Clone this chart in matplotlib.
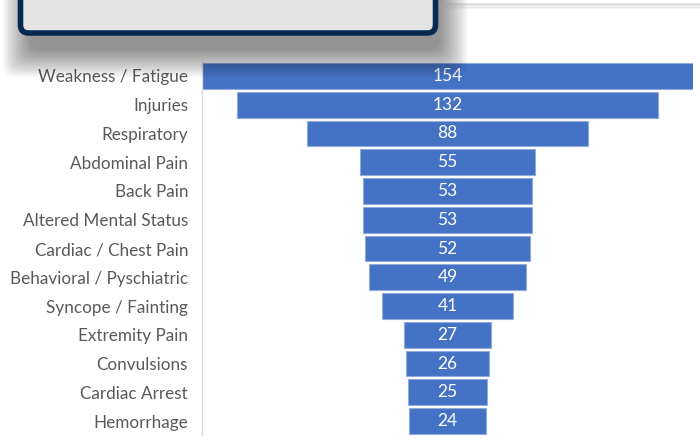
import matplotlib.pyplot as plt
import numpy as np
from matplotlib.patches import FancyBboxPatch
from matplotlib.lines import Line2D

categories = ['Weakness / Fatigue', 'Injuries', 'Respiratory', 'Abdominal Pain',
              'Back Pain', 'Altered Mental Status', 'Cardiac / Chest Pain',
              'Behavioral / Pyschiatric', 'Syncope / Fainting', 'Extremity Pain',
              'Convulsions', 'Cardiac Arrest', 'Hemorrhage']
counts = [154, 132, 88, 55, 53, 53, 52, 49, 41, 27, 26, 25, 24]

bar_color = '#4472C4'
label_color = '#595959'

fig = plt.figure(figsize=(7, 4.48), dpi=100)
ax = fig.add_axes([202 / 700, 1 - 435.4 / 448, 491 / 700, (435.4 - 61.6) / 448])

y = np.arange(len(categories))
vals = np.array(counts)
ax.barh(y, vals, left=-vals / 2, height=0.9, color=bar_color,
        edgecolor='#8FAADC', linewidth=0.8)
for yi, v in zip(y, vals):
    ax.text(0, yi, str(v), ha='center', va='center', color='white',
            fontsize=12.5, family='Lato')

ax.set_xlim(-max(counts) / 2, max(counts) / 2)
ax.set_ylim(len(categories) - 0.5, -0.5)
ax.set_yticks(y)
ax.set_yticklabels(categories, fontsize=12.3, color=label_color, family='Lato')
ax.tick_params(axis='y', length=0, pad=10)
ax.set_xticks([])
for s in ['top', 'right', 'bottom']:
    ax.spines[s].set_visible(False)
ax.spines['left'].set_color('#D9D9D9')
ax.spines['left'].set_linewidth(1)

# faint edge line along the top right
for i, a in enumerate([0.25, 0.2, 0.15, 0.1]):
    fig.add_artist(Line2D([4.4, 7.0], [4.44 - 0.015 * i, 4.44 - 0.015 * i],
                          transform=fig.dpi_scale_trans,
                          color='#A0A0A0', linewidth=1.5, alpha=a))

# soft shadow under the callout box
for i in range(16):
    pad = 0.018 * i
    fig.add_artist(FancyBboxPatch((0.3 - pad, 3.98 - pad), 4.1 + 2 * pad, 1.0,
                                  boxstyle='round,pad=0,rounding_size=0.12',
                                  transform=fig.dpi_scale_trans,
                                  facecolor='black', edgecolor='none', alpha=0.03))

# callout box (cut off by the top edge)
fig.add_artist(FancyBboxPatch((0.205, 4.15), 4.15, 0.6,
                              boxstyle='round,pad=0,rounding_size=0.08',
                              transform=fig.dpi_scale_trans,
                              facecolor='#E4E4E4', edgecolor='#06294F', linewidth=4))

fig.savefig('out.png', dpi=100)
